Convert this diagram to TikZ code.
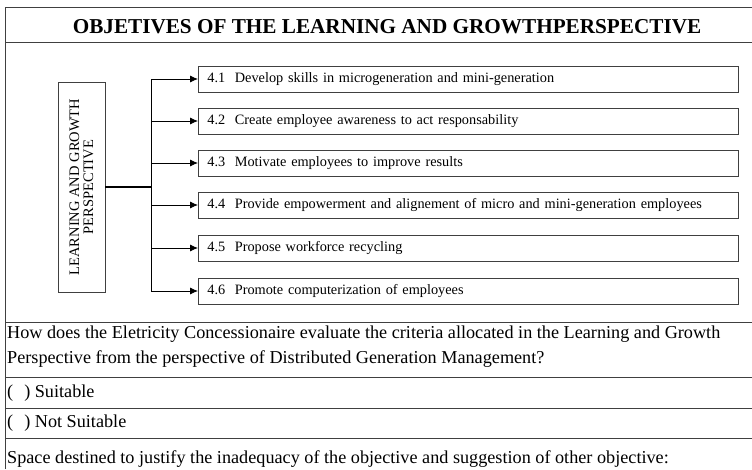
\documentclass[tikz,border=0pt]{standalone}
\usepackage{fontspec}
\setmainfont{Liberation Serif}
\usetikzlibrary{arrows.meta, positioning}

\begin{document}
\begin{tikzpicture}[x=1pt, y=-1pt, >={Latex[length=8pt, width=7pt]},
    rule/.style={draw=black!75, line width=1pt},
    goal/.style={draw=black!75, line width=0.9pt, anchor=west,
      minimum height=26pt, text width=522pt, inner xsep=9pt, align=left,
      font=\fontsize{14.3}{16}\selectfont},
    txt/.style={anchor=base west, inner sep=0pt, align=left,
      font=\fontsize{18.2}{25}\selectfont}]
  \useasboundingbox (0,0) rectangle (752,469);

  % frame and table rows
  \draw[rule] (5,469) -- (5,7) -- (770,7);
  \foreach \y in {42, 322, 377, 408, 438}
    \draw[rule] (5,\y) -- (770,\y);

  \node[anchor=base, inner sep=0pt,
    font=\fontsize{21.2}{25}\selectfont\bfseries] (title) at (387,33)
    {OBJETIVES OF THE LEARNING AND GROWTHPERSPECTIVE};

  % perspective box
  \node[draw=black!75, line width=0.9pt, rotate=90, minimum width=210pt,
    minimum height=47pt, align=center,
    font=\fontsize{14.5}{14}\selectfont] (persp) at (81.5,187)
    {LEARNING AND GROWTH\\PERSPECTIVE};

  % objectives
  \node[goal] (o1) at (198,79)  {4.1\ \ Develop skills in microgeneration and mini-generation};
  \node[goal] (o2) at (198,121) {4.2\ \ Create employee awareness to act responsability};
  \node[goal] (o3) at (198,163) {4.3\ \ Motivate employees to improve results};
  \node[goal] (o4) at (198,205) {4.4\ \ Provide empowerment and alignement of micro and mini-generation employees};
  \node[goal] (o5) at (198,248) {4.5\ \ Propose workforce recycling};
  \node[goal] (o6) at (198,291) {4.6\ \ Promote computerization of employees};

  % connectors
  \coordinate (bus) at (151,187);
  \draw[line width=1.6pt] (persp.south) -- (bus);
  \draw[thick] (bus |- o1.west) -- (bus |- o6.west);
  \foreach \i in {1,...,6}
    \draw[->, thick] (bus |- o\i.west) -- (o\i.west);

  % evaluation rows (base is the last line)
  \node[txt] (question) at (7,363)
    {How does the Eletricity Concessionaire evaluate the criteria allocated in the Learning and Growth\\
     Perspective from the perspective of Distributed Generation Management?};
  \node[txt] (suit) at (7,397) {(\hspace{11pt}) Suitable};
  \node[txt] (notsuit) at (7,427) {(\hspace{11pt}) Not Suitable};
  \node[txt] (space) at (7,463)
    {Space destined to justify the inadequacy of the objective and suggestion of other objective:};
\end{tikzpicture}
\end{document}
